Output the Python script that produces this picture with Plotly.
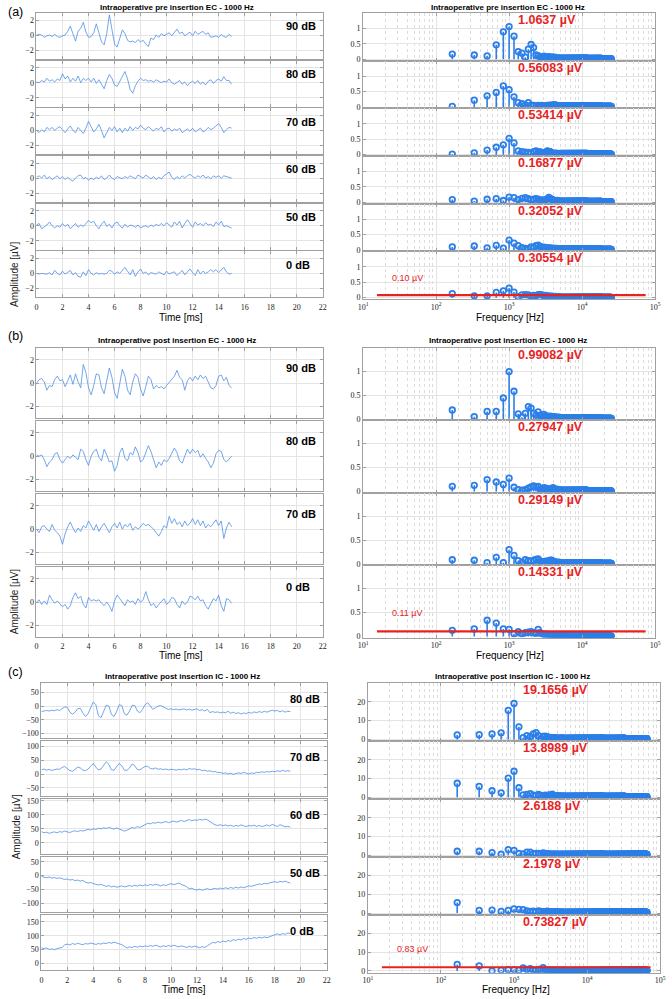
import plotly.graph_objects as go

W, H = 672, 999
LINE_BLUE = "#4f8fe6"
STEM_BLUE = "#2c7fe8"
RED = "#e8231f"
GRID = "#e4e4e4"
FRAME = "#a0a0a0"
SANS = "Liberation Sans"
TICKFONT = dict(family="Liberation Serif", size=8, color="#222222")

# ---------------- time-domain data (µV) ----------------
t_ec = [round(0.2 * i, 1) for i in range(76)]   # 0 .. 15 ms
t_ic = [round(0.2 * i, 1) for i in range(97)]   # 0 .. 19.2 ms

a_90 = [0.0, 0.1, 0.0, -0.3, -0.1, 0.0, -0.2, 0.1, -0.2, -0.3, -0.1, 0.0, 0.5, 1.2, 0.2, -0.8, 0.5, 0.9, 1.7, 0.4,
        -0.3, -0.2, 0.3, 1.5, 0.3, -0.9, -1.3, 0.2, 2.7, 0.6, -1.2, -1.6, -0.6, 0.7, 0.2, -0.7, -0.9, -0.8, -1.0, -0.6,
        -0.9, -0.7, -1.2, -1.5, -0.4, -0.6, 0.0, -0.3, 0.2, -0.1, 0.1, 0.3, -0.1, 0.3, 0.8, 0.2, 0.4, -0.1, 0.2, 0.4,
        -0.1, 0.5, 0.1, 0.3, 0.5, 0.1, 0.3, -0.3, -0.2, -0.1, -0.3, 0.1, -0.2, -0.3, 0.1, -0.2]
a_80 = [0.1, 0.0, 0.3, 0.1, 0.6, 0.2, 0.4, 0.1, 0.5, 0.3, 1.2, 0.5, 0.9, 0.1, 0.6, 0.2, 0.9, 0.0, 0.6, 0.3,
        0.6, 0.1, 0.6, -0.1, 0.4, -0.3, -0.8, 0.3, 1.1, 0.6, -0.3, -0.5, 0.2, 0.9, 1.5, 0.5, -0.9, -1.4, -0.4, 0.2,
        0.6, 0.3, 0.4, 0.2, 0.3, 0.1, 0.4, 0.2, 0.0, 0.2, 0.1, 0.5, 0.0, -0.2, 0.1, 0.3, -0.2, 0.1, -0.4, 0.0,
        0.2, -0.1, 0.3, -0.2, 0.1, -0.3, 0.2, 0.4, -0.1, 0.3, 0.5, 0.2, 0.8, 0.3, 0.3, -0.2]
a_70 = [0.0, -0.3, 0.1, -0.2, 0.4, 0.1, 0.4, 0.0, 0.3, 0.5, 0.1, -0.3, 0.2, 0.6, 0.0, -0.3, 0.4, 0.0, -0.4, 0.3,
        1.2, 0.5, -0.2, 0.2, 0.8, 0.0, -1.0, -0.3, 0.4, 0.0, 0.5, -0.2, 0.3, -0.3, 0.3, -0.1, 0.5, 0.0, 0.4, 0.2,
        0.7, 0.3, 0.1, 0.5, 0.2, -0.1, 0.3, 0.1, 0.5, -0.2, 0.2, 0.3, -0.1, 0.2, 0.0, 0.3, -0.3, 0.0, 0.2, -0.1,
        0.3, -0.2, 0.1, 0.3, -0.2, 0.0, 0.4, 0.1, 0.3, 0.6, 0.9, 0.4, -0.3, 0.1, 0.4, 0.3]
a_60 = [0.1, 0.3, 0.0, 0.4, -0.1, 0.2, -0.2, 0.0, 0.3, -0.1, 0.2, -0.2, 0.1, -0.2, -0.4, 0.0, 0.3, 0.4, -0.1, 0.1,
        -0.3, 0.0, -0.2, 0.1, -0.1, 0.3, -0.2, 0.0, 0.4, 0.0, -0.2, 0.2, 0.1, -0.1, 0.2, 0.0, 0.3, 0.1, -0.1, 0.4,
        0.2, 0.0, 0.4, 0.2, -0.1, 0.2, -0.2, 0.1, -0.1, 0.3, 0.5, 0.8, 0.1, -0.2, 0.2, -0.1, 0.3, 0.0, 0.3, 0.5,
        0.2, 0.0, 0.3, 0.1, 0.4, 0.0, 0.2, -0.1, 0.3, 0.1, 0.3, 0.0, 0.3, 0.2, 0.1, 0.0]
a_50 = [0.1, 0.3, -0.4, -0.2, 0.1, 0.5, 0.0, -0.3, 0.0, -0.2, 0.3, -0.1, 0.2, -0.4, 0.0, 0.3, -0.2, 0.1, -0.1, 0.3,
        0.7, 0.4, 0.6, 0.0, -0.4, 0.2, 0.6, -0.1, 0.2, -0.3, 0.3, 0.5, 0.0, -0.3, 0.2, -0.2, 0.1, 0.0, -0.2, 0.1,
        -0.3, -0.1, 0.0, -0.2, 0.1, -0.1, 0.2, 0.0, 0.3, 0.0, 0.4, 0.1, -0.2, 0.5, 0.1, 0.6, -0.3, 0.3, 0.8, 0.3,
        -0.2, 0.5, 0.1, 0.3, 0.0, 0.4, 0.1, 0.2, -0.1, 0.5, 0.1, 0.6, -0.1, 0.0, -0.2, -0.3]
a_0 = [0.0, -0.1, 0.0, -0.1, -0.1, 0.1, -0.2, 0.4, 0.0, -0.2, 0.3, -0.1, 0.1, 0.4, -0.2, 0.1, -0.4, -0.5, 0.2, -0.3,
       0.5, 0.0, -0.2, 0.1, -0.1, 0.0, -0.1, 0.0, 0.4, 0.3, -0.1, 0.2, 0.0, 0.4, 0.8, 0.3, -0.2, 0.5, -0.4, 0.2,
       0.6, 0.0, 0.2, -0.2, 0.1, 0.0, -0.1, 0.2, 0.0, -0.2, 0.3, -0.1, 0.1, 0.2, -0.3, 0.0, 0.4, -0.2, 0.2, 0.6,
       0.1, -0.3, 0.5, -0.1, 0.3, 0.0, 0.2, 0.5, 0.2, 0.5, 0.1, 0.4, 0.8, 0.2, -0.1, 0.0]

b_90 = [0.0, 0.3, 0.4, 0.1, -0.6, -0.2, -0.3, 0.3, 0.6, 0.2, 0.3, -0.3, 0.2, 0.7, -0.1, 0.8, 0.1, -0.4, 1.6, 0.9,
        -0.4, -1.0, -0.2, 0.8, 0.7, -0.4, -0.9, 0.2, 1.3, 0.5, -0.8, -1.3, 0.0, 1.2, 0.6, -0.6, -1.0, 0.1, 0.8, 0.5,
        -0.5, -1.1, -0.3, 0.6, 0.3, -0.5, -0.2, -0.4, -0.3, -0.5, -0.2, 0.1, 0.4, 0.6, 1.1, 0.5, 0.3, -0.6, 0.2, 0.5,
        0.2, 0.6, 0.3, 0.7, 0.4, 0.6, 0.1, -0.4, -0.5, -0.2, 0.6, 0.7, 0.2, 0.5, -0.2, -0.4]
b_80 = [0.1, 0.0, 0.1, -0.3, -0.9, -0.5, -0.3, 0.2, 0.3, -0.3, -0.6, -0.3, 0.0, -0.2, 0.1, -0.1, -0.3, 0.6, 0.4, -0.3,
        -0.8, 0.0, 0.4, 0.6, -0.1, -0.4, 0.6, 0.1, -0.5, -0.4, -1.3, -0.8, 0.3, 0.7, -0.2, -0.4, 0.3, 0.1, 0.8, 0.3,
        -0.5, -0.3, 0.3, 0.9, 0.4, -0.4, -1.0, -0.5, -0.8, -0.3, -0.5, -0.2, 0.2, 0.7, 0.3, -0.4, -0.6, 0.1, 0.6, 0.2,
        0.6, 0.3, 0.5, -0.1, 0.2, -0.2, -0.5, -1.0, -0.6, 0.2, 0.5, 0.4, -0.3, -0.5, -0.2, 0.0]
b_70 = [0.0, -0.3, 0.2, 0.3, 0.0, -0.2, 0.4, -0.1, -0.3, -0.6, -1.3, -0.4, 0.2, 0.6, 0.1, -0.3, 0.1, -0.2, 0.3, 0.1,
        0.7, 0.3, -0.1, 0.4, -0.2, 0.2, 0.5, 0.1, -0.3, 0.2, 0.5, 0.1, 0.6, 0.0, 0.4, 0.2, 0.5, -0.1, 0.2, 0.0,
        0.2, 0.5, 0.3, 0.4, 0.2, 0.0, -0.3, -0.6, -0.2, 0.3, 0.1, 1.1, 0.5, 0.9, 0.4, 0.6, 0.2, 0.7, 0.3, 0.5,
        0.9, 0.4, 0.8, 0.3, 0.7, 0.1, 0.4, 0.2, 0.5, 0.8, 0.3, 0.7, -0.8, 0.1, 0.6, 0.2]
b_0 = [0.0, 0.2, -0.2, 0.1, -0.2, 0.6, 0.2, -0.1, 0.1, -0.2, -0.4, -0.2, -0.6, -0.3, 0.4, 0.8, 0.3, 0.5, -0.2, -0.5,
       0.4, 0.1, 0.2, 0.1, 0.2, -0.1, -0.3, 0.0, -0.3, -0.8, 0.1, 0.6, 0.3, -0.1, -0.3, 0.2, 0.0, 0.1, -0.2, 0.3,
       0.0, 0.2, 0.9, 0.2, -0.3, -0.1, -0.5, -0.2, 0.1, 0.3, -0.2, 0.0, 0.4, 0.3, -0.2, -0.5, 0.1, -0.2, 0.0, 0.5,
       0.4, 0.2, 0.5, 0.1, 0.2, -0.3, -0.6, -0.2, 0.3, 0.1, 0.6, -0.3, -0.8, 0.3, 0.2, -0.1]

c_80 = [-20, -18, -16, -18, -15, -17, -13, -16, -10, -3, -5, -22, -30, -22, -10, -8, -25, -38, -28, -5,
        15, 5, -35, -42, -20, 3, 0, -30, -38, -20, 5, 2, -28, -33, -18, 3, 2, -18, -24, -12,
        5, 12, 0, -12, -6, 0, 2, -4, -8, -12, -10, -13, -11, -14, -12, -10, -14, -11, -15, -13,
        -10, -16, -13, -18, -12, -24, -20, -23, -21, -25, -22, -24, -19, -26, -22, -27, -24, -29, -25, -27,
        -23, -26, -21, -24, -20, -23, -19, -22, -17, -15, -18, -16, -21, -17, -22, -19, -20]
c_70 = [15, 18, 14, 17, 13, 16, 18, 17, 24, 27, 18, 12, 10, 17, 25, 22, 14, 12, 18, 28,
        38, 25, 15, 18, 30, 44, 35, 15, 14, 25, 38, 30, 14, 13, 22, 36, 30, 16, 15, 22,
        27, 28, 20, 18, 22, 17, 19, 16, 18, 15, 17, 16, 14, 17, 15, 18, 15, 20, 17, 19,
        15, 17, 12, 14, 10, 12, 8, 9, 5, 6, 2, 4, 0, 3, -1, 2, 4, 2, 6, 3,
        0, 4, 2, 6, 5, 8, 6, 9, 7, 10, 8, 12, 9, 13, 10, 12, 10]
c_60 = [40, 36, 38, 34, 37, 39, 36, 40, 38, 42, 39, 37, 41, 43, 40, 44, 42, 45, 48, 46,
        50, 48, 52, 50, 54, 51, 55, 52, 49, 53, 50, 46, 42, 45, 50, 55, 52, 58, 55, 60,
        64, 70, 68, 72, 70, 74, 71, 73, 76, 72, 75, 78, 74, 77, 80, 76, 79, 83, 79, 82,
        80, 84, 81, 85, 82, 76, 70, 64, 62, 65, 61, 64, 60, 63, 59, 62, 60, 64, 61, 58,
        62, 60, 63, 59, 62, 58, 61, 64, 60, 66, 62, 58, 65, 61, 57, 59, 56]
c_50 = [-3, -6, -8, -5, -9, -7, -10, -8, -12, -14, -12, -16, -14, -18, -16, -20, -17, -24, -27, -25,
        -29, -31, -34, -32, -37, -39, -36, -41, -38, -42, -40, -37, -41, -38, -36, -39, -35, -38, -34, -37,
        -33, -36, -32, -35, -31, -34, -37, -33, -36, -32, -29, -33, -30, -27, -32, -35, -40, -48, -46, -50,
        -52, -49, -53, -50, -47, -51, -48, -46, -49, -45, -48, -44, -47, -43, -46, -42, -45, -41, -44, -40,
        -37, -39, -35, -33, -30, -32, -28, -30, -26, -24, -22, -25, -21, -23, -20, -24, -27]
c_0 = [57, 54, 56, 51, 53, 50, 54, 56, 58, 68, 70, 67, 72, 69, 73, 70, 68, 72, 70, 74,
       71, 69, 72, 70, 74, 72, 76, 73, 77, 74, 71, 68, 62, 56, 60, 58, 62, 59, 63, 60,
       64, 61, 65, 62, 66, 63, 60, 64, 61, 65, 62, 66, 63, 60, 64, 61, 58, 62, 59, 63,
       60, 57, 61, 58, 64, 70, 76, 74, 79, 76, 81, 78, 83, 80, 86, 83, 88, 85, 90, 87,
       92, 89, 94, 91, 95, 92, 96, 93, 97, 100, 104, 107, 103, 108, 105, 110, 108]

# ---------------- spectra (µV) ----------------
bin_hz = 166.67

sa_90 = [0.17, 0.14, 0.11, 0.47, 0.89, 1.06, 0.75, 0.25, 0.20, 0.07, 0.33, 0.48, 0.38, 0.14, 0.12, 0.08, 0.05, 0.10,
         0.06, 0.08, 0.09, 0.07, 0.06, 0.08, 0.05, 0.06, 0.05, 0.04, 0.05, 0.04] + [0.04] * 40 + [0.03] * 40 + [0.02] * 40
sa_80 = [0.02, 0.22, 0.36, 0.47, 0.68, 0.56, 0.33, 0.14, 0.11, 0.07, 0.14, 0.06, 0.05, 0.04, 0.05, 0.04, 0.05, 0.04,
         0.04, 0.05, 0.05, 0.06, 0.05, 0.07, 0.08, 0.06, 0.05, 0.04, 0.04, 0.03] + [0.04] * 40 + [0.03] * 40 + [0.02] * 40
sa_70 = [0.02, 0.06, 0.15, 0.24, 0.32, 0.53, 0.38, 0.12, 0.10, 0.08, 0.07, 0.05, 0.10, 0.12, 0.10, 0.09, 0.07, 0.05,
         0.08, 0.12, 0.11, 0.10, 0.06, 0.05, 0.04, 0.05, 0.04, 0.04, 0.03, 0.04] + [0.04] * 40 + [0.03] * 40 + [0.02] * 40
sa_60 = [0.09, 0.04, 0.10, 0.12, 0.06, 0.17, 0.15, 0.09, 0.13, 0.15, 0.12, 0.08, 0.10, 0.12, 0.10, 0.06, 0.08, 0.07,
         0.09, 0.11, 0.16, 0.12, 0.10, 0.08, 0.06, 0.05, 0.06, 0.05, 0.04, 0.05] + [0.04] * 40 + [0.03] * 40 + [0.02] * 40
sa_50 = [0.10, 0.13, 0.07, 0.15, 0.06, 0.32, 0.22, 0.14, 0.08, 0.05, 0.04, 0.10, 0.08, 0.14, 0.16, 0.12, 0.08, 0.09,
         0.07, 0.08, 0.06, 0.07, 0.05, 0.06, 0.05, 0.04, 0.05, 0.04, 0.04, 0.03] + [0.04] * 40 + [0.03] * 40 + [0.02] * 40
sa_0 = [0.13, 0.06, 0.06, 0.17, 0.22, 0.31, 0.18, 0.03, 0.09, 0.10, 0.09, 0.05, 0.07, 0.06, 0.10, 0.10, 0.09, 0.06,
        0.07, 0.05, 0.06, 0.04, 0.05, 0.04, 0.03, 0.04, 0.03, 0.03, 0.02, 0.03] + [0.02] * 40 + [0.015] * 40 + [0.01] * 40

sb_90 = [0.19, 0.05, 0.16, 0.16, 0.44, 0.99, 0.58, 0.11, 0.04, 0.12, 0.26, 0.23, 0.12, 0.09, 0.15, 0.08, 0.06, 0.10,
         0.07, 0.06, 0.05, 0.06, 0.05, 0.04, 0.05, 0.04, 0.04, 0.03, 0.04, 0.03] + [0.03] * 40 + [0.02] * 40 + [0.015] * 40
sb_80 = [0.11, 0.13, 0.25, 0.20, 0.15, 0.28, 0.09, 0.04, 0.03, 0.04, 0.07, 0.10, 0.12, 0.10, 0.11, 0.05, 0.06, 0.08,
         0.07, 0.05, 0.06, 0.04, 0.06, 0.08, 0.05, 0.04, 0.05, 0.04, 0.03, 0.04] + [0.03] * 40 + [0.02] * 40 + [0.015] * 40
sb_70 = [0.09, 0.08, 0.03, 0.14, 0.03, 0.30, 0.18, 0.07, 0.04, 0.09, 0.07, 0.06, 0.08, 0.10, 0.11, 0.06, 0.05, 0.05,
         0.06, 0.05, 0.07, 0.08, 0.08, 0.06, 0.05, 0.04, 0.04, 0.03, 0.04, 0.03] + [0.03] * 40 + [0.02] * 40 + [0.015] * 40
sb_0 = [0.13, 0.16, 0.34, 0.28, 0.16, 0.15, 0.06, 0.10, 0.06, 0.08, 0.09, 0.10, 0.08, 0.07, 0.15, 0.08, 0.06, 0.05,
        0.04, 0.05, 0.04, 0.03, 0.04, 0.03, 0.03, 0.02, 0.03, 0.02, 0.02, 0.02] + [0.02] * 40 + [0.015] * 40 + [0.01] * 40

sc_80 = [2.4, 2.5, 2.9, 3.5, 15.5, 19.17, 6.7, 0.9, 2.0, 1.5, 2.9, 3.6, 2.0, 0.4, 1.6, 1.8, 1.5, 1.2, 1.0, 0.8,
         1.0, 0.9, 0.7, 0.8, 0.6, 0.7, 0.9, 0.8, 0.6, 0.7] + [0.7] * 70 + [0.5] * 100 + [0.4] * 196
sc_70 = [7.5, 5.8, 3.5, 2.4, 10.2, 13.9, 5.1, 1.3, 1.5, 2.0, 1.2, 1.0, 1.5, 1.0, 0.8, 1.1, 0.9, 1.3, 1.0, 1.7,
         0.9, 0.8, 0.7, 0.9, 0.6, 0.8, 0.7, 0.6, 0.7, 0.6] + [0.6] * 70 + [0.5] * 100 + [0.4] * 196
sc_60 = [2.1, 2.1, 1.4, 0.5, 3.0, 2.62, 0.9, 0.7, 1.6, 1.6, 0.8, 1.0, 0.9, 0.8, 1.2, 0.9, 0.7, 0.8, 0.6, 0.7,
         0.6, 0.7, 0.5, 0.6, 0.5, 0.6, 0.5, 0.5, 0.6, 0.5] + [0.5] * 70 + [0.45] * 100 + [0.4] * 196
sc_50 = [5.6, 1.4, 1.6, 0.9, 1.4, 2.2, 2.0, 1.8, 1.2, 0.9, 1.0, 0.8, 1.1, 0.9, 0.7, 0.8, 1.0, 0.7, 0.8, 0.6,
         0.7, 0.8, 0.6, 0.7, 0.5, 0.6, 0.5, 0.6, 0.5, 0.5] + [0.5] * 70 + [0.45] * 100 + [0.4] * 196
sc_0 = [3.5, 2.7, 0.1, 0.5, 0.7, 0.74, 0.5, 1.6, 0.8, 1.2, 0.6, 0.5, 0.9, 0.7, 1.8, 0.6, 0.5, 0.4, 0.6, 0.5,
        0.4, 0.5, 0.3, 0.4, 0.3, 0.4, 0.3, 0.3, 0.4, 0.3] + [0.35] * 70 + [0.3] * 100 + [0.25] * 196

# labels
titles_left = ["Intraoperative pre insertion EC - 1000 Hz", "Intraoperative post insertion EC - 1000 Hz",
               "Intraoperative post insertion IC - 1000 Hz"]
db_a = ["90 dB", "80 dB", "70 dB", "60 dB", "50 dB", "0 dB"]
db_b = ["90 dB", "80 dB", "70 dB", "0 dB"]
db_c = ["80 dB", "70 dB", "60 dB", "50 dB", "0 dB"]
peak_a = ["1.0637 µV", "0.56083 µV", "0.53414 µV", "0.16877 µV", "0.32052 µV", "0.30554 µV"]
peak_b = ["0.99082 µV", "0.27947 µV", "0.29149 µV", "0.14331 µV"]
peak_c = ["19.1656 µV", "13.8989 µV", "2.6188 µV", "2.1978 µV", "0.73827 µV"]
noise_level = [0.08, 0.11, 2.0]
noise_text = ["0.10 µV", "0.11 µV", "0.83 µV"]
noise_text_y = [0.65, 0.5, 11.5]

# ---------------- layout helpers ----------------
layout = dict(width=W, height=H, margin=dict(l=0, r=0, t=0, b=0), paper_bgcolor="white",
              plot_bgcolor="white", showlegend=False)
annotations = []
traces = []
count = [0]


def new_axes(xpx, ypx, xa, ya):
    count[0] += 1
    n = count[0]
    s = "" if n == 1 else str(n)
    xa = dict(xa)
    ya = dict(ya)
    xa["domain"] = [xpx[0] / W, xpx[1] / W]
    xa["anchor"] = "y" + s
    ya["domain"] = [1 - ypx[1] / H, 1 - ypx[0] / H]
    ya["anchor"] = "x" + s
    layout["xaxis" + s] = xa
    layout["yaxis" + s] = ya
    return "x" + s, "y" + s


common = dict(showline=True, linecolor=FRAME, linewidth=1, mirror="ticks", ticks="inside", ticklen=3,
              tickcolor=FRAME, zeroline=False, showgrid=True, gridcolor=GRID, gridwidth=1, tickfont=TICKFONT,
              fixedrange=True)
minor_vals = [m * 10 ** e for e in range(1, 5) for m in range(2, 10)]


def left_panel(xpx, ypx, t, y, yrange, yticks, show_x, label, ytitle=False):
    xa = dict(common, range=[0, 22], tickvals=list(range(0, 23, 2)), showticklabels=show_x, ticklabelstandoff=2)
    ya = dict(common, range=yrange, tickvals=yticks)
    if ytitle:
        ya["title"] = dict(text="Amplitude [µV]", font=dict(family=SANS, size=10, color="#222"), standoff=4)
    xr, yr = new_axes(xpx, ypx, xa, ya)
    traces.append(go.Scatter(x=t, y=y, mode="lines", line=dict(color=LINE_BLUE, width=0.8), xaxis=xr, yaxis=yr,
                             hoverinfo="skip"))
    annotations.append(dict(text="<b>" + label + "</b>", x=19, xref=xr, xanchor="left", y=0.71,
                            yref=yr + " domain", yanchor="middle", showarrow=False,
                            font=dict(family=SANS, size=11, color="black")))


def right_panel(xpx, ypx, vals, yrange, yticks, show_x, label, noise=None):
    freqs = [bin_hz * (k + 1) for k in range(len(vals))]
    xa = dict(common, type="log", range=[1, 5], tickvals=[10, 100, 1e3, 1e4, 1e5],
              ticktext=["10<sup>1</sup>", "10<sup>2</sup>", "10<sup>3</sup>", "10<sup>4</sup>", "10<sup>5</sup>"],
              showticklabels=show_x,
              minor=dict(tickvals=minor_vals, showgrid=True, gridcolor="#dcdcdc", griddash="dot", ticks=""))
    ya = dict(common, range=yrange, tickvals=yticks)
    xr, yr = new_axes(xpx, ypx, xa, ya)
    sx, sy = [], []
    for f, v in zip(freqs, vals):
        sx += [f, f, None]
        sy += [0, v, None]
    traces.append(go.Scatter(x=sx, y=sy, mode="lines", line=dict(color=STEM_BLUE, width=1.6), xaxis=xr, yaxis=yr,
                             hoverinfo="skip"))
    traces.append(go.Scatter(x=freqs, y=vals, mode="markers", xaxis=xr, yaxis=yr, hoverinfo="skip",
                             marker=dict(symbol="circle-open", size=5.5, color=STEM_BLUE,
                                         line=dict(width=1.8, color=STEM_BLUE))))
    if noise is not None:
        lvl, txt, ty = noise
        traces.append(go.Scatter(x=[15.5, 74000], y=[lvl, lvl], mode="lines", line=dict(color=RED, width=2.2),
                                 xaxis=xr, yaxis=yr, hoverinfo="skip"))
        annotations.append(dict(text=txt, x=1.37, xref=xr, xanchor="left", y=ty, yref=yr, yanchor="middle",
                                showarrow=False, font=dict(family=SANS, size=9, color=RED)))
    annotations.append(dict(text="<b>" + label + "</b>", x=3.1, xref=xr, xanchor="left", y=1,
                            yref=yr + " domain", yanchor="middle", yshift=-7, showarrow=False,
                            font=dict(family=SANS, size=12.5, color=RED)))


def paper_text(text, xpx, ypx, size, bold=False, anchor="center"):
    annotations.append(dict(text=("<b>%s</b>" % text) if bold else text, x=xpx / W, y=1 - ypx / H,
                            xref="paper", yref="paper", xanchor=anchor, yanchor="middle", showarrow=False,
                            font=dict(family=SANS, size=size, color="black")))


# ---------------- section (a) ----------------
a_waves = [a_90, a_80, a_70, a_60, a_50, a_0]
a_specs = [sa_90, sa_80, sa_70, sa_60, sa_50, sa_0]
for i in range(6):
    last = i == 5
    left_panel((32, 323), (10 + 48 * i, 10 + 48 * i + 46.5), t_ec, a_waves[i], [-3.2, 2.95], [-2, 0, 2],
               last, db_a[i], ytitle=last)
    right_panel((364, 661), (10 + 48 * i, 58 + 48 * i), a_specs[i], [-0.04, 1.5], [0, 0.5, 1], last, peak_a[i],
                noise=(noise_level[0], noise_text[0], noise_text_y[0]) if last else None)

# ---------------- section (b) ----------------
b_waves = [b_90, b_80, b_70, b_0]
b_specs = [sb_90, sb_80, sb_70, sb_0]
for i in range(4):
    last = i == 3
    left_panel((32, 323), (347 + 73.5 * i, 347 + 73.5 * i + 70.5), t_ec, b_waves[i], [-2.95, 3.05], [-2, 0, 2],
               last, db_b[i], ytitle=last)
    right_panel((364, 661), (347 + 73 * i, 420 + 73 * i), b_specs[i], [-0.02, 1.49], [0, 0.5, 1], last, peak_b[i],
                noise=(noise_level[1], noise_text[1], noise_text_y[1]) if last else None)

# ---------------- section (c) ----------------
c_waves = [c_80, c_70, c_60, c_50, c_0]
c_specs = [sc_80, sc_70, sc_60, sc_50, sc_0]
c_ranges = [[-117, 83], [-80, 118], [-41, 156], [-133, 67], [-24, 174]]
c_ticks = [[-100, -50, 0, 50], [-50, 0, 50, 100], [0, 50, 100, 150], [-100, -50, 0, 50], [0, 50, 100, 150]]
for i in range(5):
    last = i == 4
    left_panel((37, 327), (685 + 58.4 * i, 685 + 58.4 * i + 55.5), t_ic, c_waves[i], c_ranges[i], c_ticks[i],
               last, db_c[i], ytitle=(i == 2))
    right_panel((369, 666), (685 + 58.3 * i, 743.3 + 58.3 * i), c_specs[i], [-0.9, 30], [0, 10, 20], last,
                peak_c[i], noise=(noise_level[2], noise_text[2], noise_text_y[2]) if last else None)

# ---------------- titles and labels ----------------
for lbl, y in [("(a)", 9), ("(b)", 335), ("(c)", 674)]:
    paper_text(lbl, 1, y, 12.5, anchor="left")
paper_text(titles_left[0], 175, 4.5, 8, bold=True)
paper_text(titles_left[0], 511, 4.5, 8, bold=True)
paper_text(titles_left[1], 175, 340, 8, bold=True)
paper_text(titles_left[1], 511, 340, 8, bold=True)
paper_text(titles_left[2], 180, 678, 8, bold=True)
paper_text(titles_left[2], 516, 678, 8, bold=True)
for y in (317, 657):
    paper_text("Time [ms]", 179, y, 10)
    paper_text("Frequency [Hz]", 513, y, 10)
paper_text("Time [ms]", 182, 993, 10)
paper_text("Frequency [Hz]", 519, 993, 10)

layout["annotations"] = annotations
fig = go.Figure(data=traces)
fig.update_layout(**layout)
fig.write_html("out.html", config={"displayModeBar": False},
               post_script="document.body.style.margin='0';document.body.style.overflow='hidden';")
